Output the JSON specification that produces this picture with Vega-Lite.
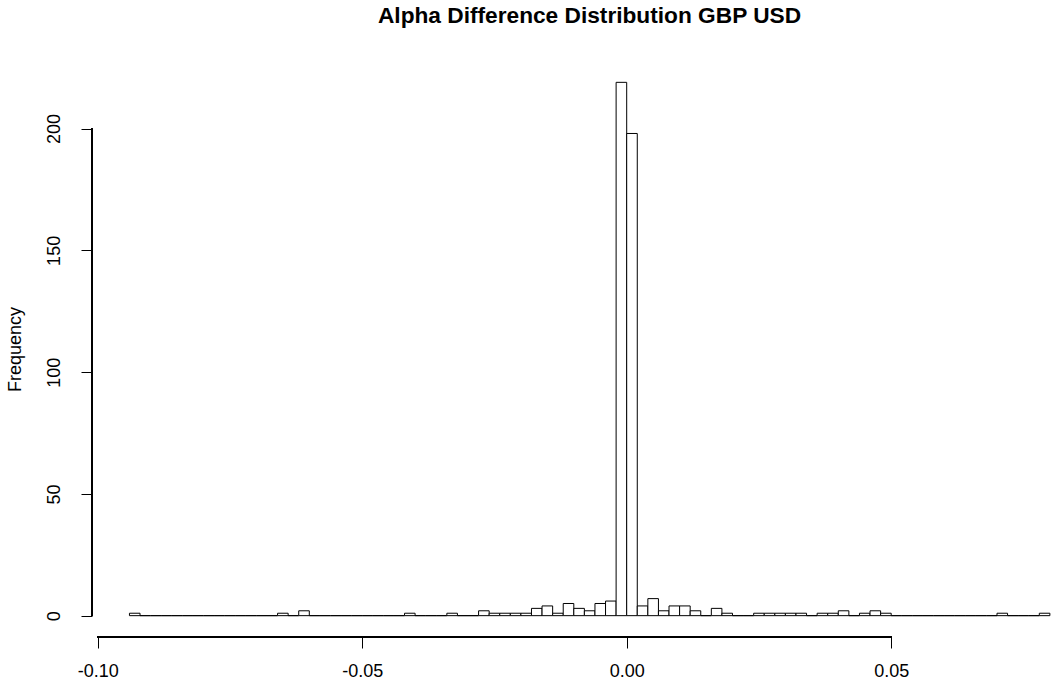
{
  "$schema": "https://vega.github.io/schema/vega-lite/v6.json",
  "width": 959,
  "height": 576,
  "autosize": {"type": "none"},
  "padding": {"left": 92, "top": 61, "right": 0, "bottom": 54},
  "background": "white",
  "title": {
    "text": "Alpha Difference Distribution GBP USD",
    "font": "Liberation Sans",
    "fontSize": 22.7,
    "fontWeight": "bold",
    "color": "black",
    "anchor": "middle",
    "frame": "group",
    "baseline": "alphabetic",
    "offset": 15,
    "dx": 18
  },
  "config": {
    "view": {"stroke": null},
    "axis": {
      "grid": false,
      "domain": false,
      "tickColor": "black",
      "tickSize": 11,
      "tickWidth": 1,
      "labelColor": "black",
      "labelFont": "Liberation Sans",
      "labelFontSize": 18,
      "labelPadding": 14,
      "titleFont": "Liberation Sans",
      "titleFontSize": 18,
      "titleFontWeight": "normal",
      "titleColor": "black"
    }
  },
  "data": {
    "values": [
      {"bin_start": -0.094, "bin_end": -0.092, "count": 1},
      {"bin_start": -0.092, "bin_end": -0.090, "count": 0},
      {"bin_start": -0.090, "bin_end": -0.088, "count": 0},
      {"bin_start": -0.088, "bin_end": -0.086, "count": 0},
      {"bin_start": -0.086, "bin_end": -0.084, "count": 0},
      {"bin_start": -0.084, "bin_end": -0.082, "count": 0},
      {"bin_start": -0.082, "bin_end": -0.080, "count": 0},
      {"bin_start": -0.080, "bin_end": -0.078, "count": 0},
      {"bin_start": -0.078, "bin_end": -0.076, "count": 0},
      {"bin_start": -0.076, "bin_end": -0.074, "count": 0},
      {"bin_start": -0.074, "bin_end": -0.072, "count": 0},
      {"bin_start": -0.072, "bin_end": -0.070, "count": 0},
      {"bin_start": -0.070, "bin_end": -0.068, "count": 0},
      {"bin_start": -0.068, "bin_end": -0.066, "count": 0},
      {"bin_start": -0.066, "bin_end": -0.064, "count": 1},
      {"bin_start": -0.064, "bin_end": -0.062, "count": 0},
      {"bin_start": -0.062, "bin_end": -0.060, "count": 2},
      {"bin_start": -0.060, "bin_end": -0.058, "count": 0},
      {"bin_start": -0.058, "bin_end": -0.056, "count": 0},
      {"bin_start": -0.056, "bin_end": -0.054, "count": 0},
      {"bin_start": -0.054, "bin_end": -0.052, "count": 0},
      {"bin_start": -0.052, "bin_end": -0.050, "count": 0},
      {"bin_start": -0.050, "bin_end": -0.048, "count": 0},
      {"bin_start": -0.048, "bin_end": -0.046, "count": 0},
      {"bin_start": -0.046, "bin_end": -0.044, "count": 0},
      {"bin_start": -0.044, "bin_end": -0.042, "count": 0},
      {"bin_start": -0.042, "bin_end": -0.040, "count": 1},
      {"bin_start": -0.040, "bin_end": -0.038, "count": 0},
      {"bin_start": -0.038, "bin_end": -0.036, "count": 0},
      {"bin_start": -0.036, "bin_end": -0.034, "count": 0},
      {"bin_start": -0.034, "bin_end": -0.032, "count": 1},
      {"bin_start": -0.032, "bin_end": -0.030, "count": 0},
      {"bin_start": -0.030, "bin_end": -0.028, "count": 0},
      {"bin_start": -0.028, "bin_end": -0.026, "count": 2},
      {"bin_start": -0.026, "bin_end": -0.024, "count": 1},
      {"bin_start": -0.024, "bin_end": -0.022, "count": 1},
      {"bin_start": -0.022, "bin_end": -0.020, "count": 1},
      {"bin_start": -0.020, "bin_end": -0.018, "count": 1},
      {"bin_start": -0.018, "bin_end": -0.016, "count": 3},
      {"bin_start": -0.016, "bin_end": -0.014, "count": 4},
      {"bin_start": -0.014, "bin_end": -0.012, "count": 1},
      {"bin_start": -0.012, "bin_end": -0.010, "count": 5},
      {"bin_start": -0.010, "bin_end": -0.008, "count": 3},
      {"bin_start": -0.008, "bin_end": -0.006, "count": 2},
      {"bin_start": -0.006, "bin_end": -0.004, "count": 5},
      {"bin_start": -0.004, "bin_end": -0.002, "count": 6},
      {"bin_start": -0.002, "bin_end": 0.000, "count": 219},
      {"bin_start": 0.000, "bin_end": 0.002, "count": 198},
      {"bin_start": 0.002, "bin_end": 0.004, "count": 4},
      {"bin_start": 0.004, "bin_end": 0.006, "count": 7},
      {"bin_start": 0.006, "bin_end": 0.008, "count": 2},
      {"bin_start": 0.008, "bin_end": 0.010, "count": 4},
      {"bin_start": 0.010, "bin_end": 0.012, "count": 4},
      {"bin_start": 0.012, "bin_end": 0.014, "count": 2},
      {"bin_start": 0.014, "bin_end": 0.016, "count": 0},
      {"bin_start": 0.016, "bin_end": 0.018, "count": 3},
      {"bin_start": 0.018, "bin_end": 0.020, "count": 1},
      {"bin_start": 0.020, "bin_end": 0.022, "count": 0},
      {"bin_start": 0.022, "bin_end": 0.024, "count": 0},
      {"bin_start": 0.024, "bin_end": 0.026, "count": 1},
      {"bin_start": 0.026, "bin_end": 0.028, "count": 1},
      {"bin_start": 0.028, "bin_end": 0.030, "count": 1},
      {"bin_start": 0.030, "bin_end": 0.032, "count": 1},
      {"bin_start": 0.032, "bin_end": 0.034, "count": 1},
      {"bin_start": 0.034, "bin_end": 0.036, "count": 0},
      {"bin_start": 0.036, "bin_end": 0.038, "count": 1},
      {"bin_start": 0.038, "bin_end": 0.040, "count": 1},
      {"bin_start": 0.040, "bin_end": 0.042, "count": 2},
      {"bin_start": 0.042, "bin_end": 0.044, "count": 0},
      {"bin_start": 0.044, "bin_end": 0.046, "count": 1},
      {"bin_start": 0.046, "bin_end": 0.048, "count": 2},
      {"bin_start": 0.048, "bin_end": 0.050, "count": 1},
      {"bin_start": 0.050, "bin_end": 0.052, "count": 0},
      {"bin_start": 0.052, "bin_end": 0.054, "count": 0},
      {"bin_start": 0.054, "bin_end": 0.056, "count": 0},
      {"bin_start": 0.056, "bin_end": 0.058, "count": 0},
      {"bin_start": 0.058, "bin_end": 0.060, "count": 0},
      {"bin_start": 0.060, "bin_end": 0.062, "count": 0},
      {"bin_start": 0.062, "bin_end": 0.064, "count": 0},
      {"bin_start": 0.064, "bin_end": 0.066, "count": 0},
      {"bin_start": 0.066, "bin_end": 0.068, "count": 0},
      {"bin_start": 0.068, "bin_end": 0.070, "count": 0},
      {"bin_start": 0.070, "bin_end": 0.072, "count": 1},
      {"bin_start": 0.072, "bin_end": 0.074, "count": 0},
      {"bin_start": 0.074, "bin_end": 0.076, "count": 0},
      {"bin_start": 0.076, "bin_end": 0.078, "count": 0},
      {"bin_start": 0.078, "bin_end": 0.080, "count": 1}
    ]
  },
  "layer": [
    {
      "mark": {"type": "bar", "fill": "white", "stroke": "black", "strokeWidth": 1},
      "encoding": {
        "x": {
          "field": "bin_start",
          "type": "quantitative",
          "scale": {"domain": [-0.10108, 0.08021], "nice": false, "zero": false},
          "axis": {
            "values": [-0.1, -0.05, 0, 0.05],
            "labelExpr": "replace(format(datum.value, '.2f'), '\u2212', '-')",
            "title": null,
            "labelFlush": false,
            "labelOverlap": false
          }
        },
        "x2": {"field": "bin_end"},
        "y": {
          "field": "count",
          "type": "quantitative",
          "scale": {"domain": [-8.76, 227.76], "nice": false, "zero": false},
          "axis": {
            "values": [0, 50, 100, 150, 200],
            "title": "Frequency",
            "labelAngle": 270,
            "labelAlign": "center",
            "labelBaseline": "bottom",
            "labelPadding": 18,
            "labelFlush": false,
            "labelOverlap": false,
            "titleAngle": 270,
            "titleAlign": "center",
            "titleBaseline": "middle",
            "titleX": -77,
            "titleY": 288
          }
        },
        "y2": {"datum": 0}
      }
    },
    {
      "mark": {"type": "rule", "color": "black", "strokeWidth": 1},
      "encoding": {
        "x": {"datum": -0.1},
        "x2": {"datum": 0.05},
        "y": {"datum": -8.76}
      }
    },
    {
      "mark": {"type": "rule", "color": "black", "strokeWidth": 1},
      "encoding": {
        "x": {"datum": -0.10108},
        "y": {"datum": 0},
        "y2": {"datum": 200}
      }
    }
  ]
}
